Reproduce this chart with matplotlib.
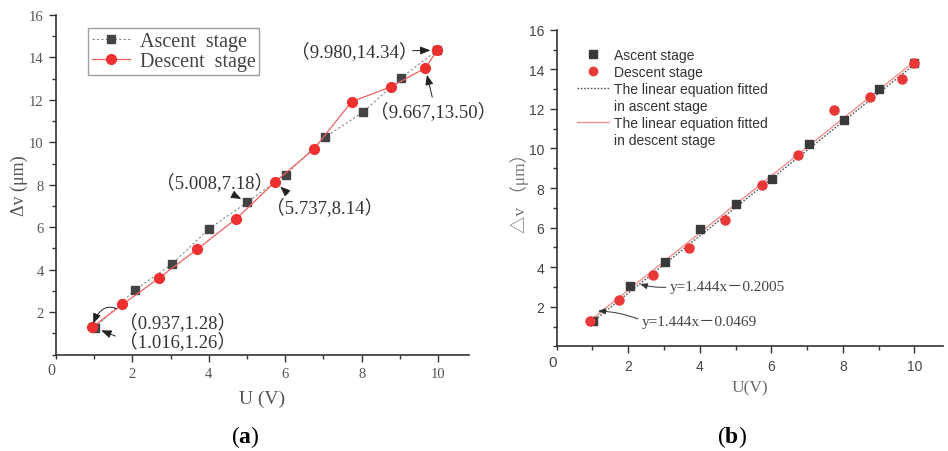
import numpy as np
import matplotlib
matplotlib.use("Agg")
import matplotlib.pyplot as plt
from matplotlib.lines import Line2D
from matplotlib.ticker import MultipleLocator

plt.rcParams["mathtext.fontset"] = "custom"
plt.rcParams["mathtext.rm"] = "Liberation Serif"
plt.rcParams["mathtext.bf"] = "Liberation Serif:bold"

# data
u_up = [1.016, 2.06, 3.03, 4.01, 5.008, 6.01, 7.05, 8.04, 9.02, 9.98]
dv_up = [1.26, 3.04, 4.26, 5.93, 7.18, 8.48, 10.25, 11.43, 13.02, 14.34]
u_down = [0.937, 1.74, 2.69, 3.70, 4.71, 5.737, 6.75, 7.74, 8.76, 9.667, 9.98]
dv_down = [1.28, 2.36, 3.60, 4.97, 6.39, 8.14, 9.68, 11.92, 12.61, 13.50, 14.34]

fit_up = (1.444, -0.2005)
fit_down = (1.444, -0.0469)
fit_x = [1.0, 10.0]

# (label, point, text pos, ha, relpos, connection, shrinkB)
notes_a = [
    ("（9.980,14.34）", (9.98, 14.34), (9.46, 14.32), "right", (0.95, 0.5), "arc3", 5),
    ("（9.667,13.50）", (9.667, 13.50), (8.22, 11.49), "left", (0.5, 1.0), "arc3", 5),
    ("（5.008,7.18）", (5.008, 7.18), (2.62, 8.14), "left", (0.6, 0.0), "arc3", 5),
    ("（5.737,8.14）", (5.737, 8.14), (5.50, 6.96), "left", (0.22, 1.0), "arc3", 5),
    ("（0.937,1.28）", (0.96, 1.40), (1.64, 1.56), "left", (0.08, 0.75), "arc3,rad=0.75", 1),
    ("（1.016,1.26）", (1.016, 1.26), (1.66, 0.64), "left", (0.07, 0.5), "arc3", 5),
]
notes_b = [
    ("y=1.444x－0.2005", (2.33, 3.15), (3.17, 3.0), (0.0, 0.5), "arc3,rad=-0.1"),
    ("y=1.444x－0.0469", (1.155, 1.78), (2.385, 1.23), (0.0, 0.6), "arc3,rad=0.1"),
]

serif = ["Liberation Serif", "Noto Sans CJK SC"]
gray_txt = "#555555"

fig = plt.figure(figsize=(9.48, 4.52), dpi=100)
ax1 = fig.add_axes([0.0591, 0.2133, 0.4352, 0.7513])
ax2 = fig.add_axes([0.5872, 0.2316, 0.4075, 0.7004])


def style_axes(ax, tick_font, tick_size, tick_color):
    ax.set_xlim(0, 10.8)
    ax.set_ylim(0, 16)
    for side in ("top", "right"):
        ax.spines[side].set_visible(False)
    for side in ("left", "bottom"):
        ax.spines[side].set_color("#333333")
        ax.spines[side].set_linewidth(1.2)
    ax.set_xticks([2, 4, 6, 8, 10])
    ax.set_yticks([2, 4, 6, 8, 10, 12, 14, 16])
    ax.xaxis.set_minor_locator(MultipleLocator(1))
    ax.yaxis.set_minor_locator(MultipleLocator(1))
    ax.tick_params(which="major", direction="out", length=5, width=1, color="#333333",
                   labelcolor=tick_color, labelsize=tick_size, pad=4)
    ax.tick_params(which="minor", direction="out", length=3, width=1, color="#333333")
    for lab in ax.get_xticklabels() + ax.get_yticklabels():
        lab.set_family(tick_font)
    ax.annotate("0", xy=(0, 0), xycoords="axes fraction", xytext=(-3, -11),
                textcoords="offset points", ha="center", va="center",
                family=tick_font, fontsize=tick_size + 1, color=tick_color)


# ---- panel (a)
style_axes(ax1, "Liberation Serif", 10.5, gray_txt)
ax1.plot(u_up, dv_up, linestyle=(0, (2, 2)), color="#888888", linewidth=0.8,
         marker="s", markersize=6, markerfacecolor="#444444", markeredgecolor="#444444",
         label="Ascent  stage")
ax1.plot(u_down, dv_down, linestyle="-", color="#f06060", linewidth=0.9,
         marker="o", markersize=7, markerfacecolor="#ee3030", markeredgecolor="#ee3030",
         label="Descent  stage")
ax1.set_xlabel("U (V)", family="Liberation Serif", fontsize=14, color=gray_txt, labelpad=7)
ax1.set_ylabel("Δv (μm)", family="Liberation Serif", fontsize=13, color=gray_txt, labelpad=1)
leg1 = ax1.legend(loc="upper left", bbox_to_anchor=(0.078, 0.962), frameon=True,
                  fancybox=False, edgecolor="#888888", handlelength=1.9, handletextpad=0.45,
                  borderpad=0.2, labelspacing=0.05, borderaxespad=0,
                  prop={"family": "Liberation Serif", "size": 14.5})
leg1.get_frame().set_linewidth(1.0)
for t in leg1.get_texts():
    t.set_color("#444444")

for i, (label, pt, txt, ha, rp, conn, sb) in enumerate(notes_a):
    props = dict(arrowstyle="-|>,head_length=0.45,head_width=0.18",
                 color="#222222", linewidth=0.7, relpos=rp,
                 connectionstyle=conn, shrinkA=1, shrinkB=sb)
    if i == 0:
        # start the arrow right at the closing bracket
        props["patchA"] = None
    ax1.annotate(label, xy=pt, xytext=txt, ha=ha, va="center", family=serif,
                 fontsize=13.5, color="#333333", annotation_clip=False,
                 arrowprops=props)

# ---- panel (b)
style_axes(ax2, "Liberation Sans", 10, "#444444")
fx = np.array(fit_x)
ax2.plot(fx, fit_up[0] * fx + fit_up[1], linestyle=(0, (1.2, 1.2)), color="#555555",
         linewidth=1.0)
ax2.plot(fx, fit_down[0] * fx + fit_down[1], linestyle="-", color="#f39090",
         linewidth=1.0)
ax2.plot(u_up, dv_up, linestyle="none", marker="s", markersize=6,
         markerfacecolor="#3a3a3a", markeredgecolor="#3a3a3a")
ax2.plot(u_down, dv_down, linestyle="none", marker="o", markersize=6.5,
         markerfacecolor="#e83838", markeredgecolor="#e83838")
ax2.set_xlabel("U(V)", family="Liberation Serif", fontsize=12.5, color="#666666", labelpad=5)
ax2.set_ylabel("△v （μm）", family=serif, fontsize=12.5, color="#777777", labelpad=0)

blank = Line2D([], [], linestyle="none")
handles = [
    Line2D([], [], linestyle="none", marker="s", markersize=5.5, color="#3a3a3a"),
    Line2D([], [], linestyle="none", marker="o", markersize=6, color="#e83838"),
    Line2D([], [], linestyle=(0, (1.2, 1.2)), color="#555555", linewidth=1.0),
    blank,
    Line2D([], [], linestyle="-", color="#f39090", linewidth=1.0),
    blank,
]
labels = ["Ascent stage", "Descent stage", "The linear equation fitted",
          "in ascent stage", "The linear equation fitted", "in descent stage"]
leg2 = ax2.legend(handles, labels, loc="upper left", bbox_to_anchor=(0.052, 0.943),
                  frameon=False, handlelength=2.3, handletextpad=0.4, borderpad=0,
                  labelspacing=0.22, borderaxespad=0,
                  prop={"family": "Liberation Sans", "size": 10})
for t in leg2.get_texts():
    t.set_color("#333333")

for label, pt, txt, rp, conn in notes_b:
    ax2.annotate(label, xy=pt, xytext=txt, ha="left", va="center", family=serif,
                 fontsize=11, color="#444444", annotation_clip=False,
                 arrowprops=dict(arrowstyle="-|>,head_length=0.4,head_width=0.16",
                                 color="#333333", linewidth=0.7, relpos=rp,
                                 connectionstyle=conn, shrinkA=1, shrinkB=0))

# captions
fig.text(245 / 948, 1 - 437 / 452, r"($\mathbf{a}$)", ha="center", va="center",
         fontsize=17, family="Liberation Serif")
fig.text(732 / 948, 1 - 437 / 452, r"($\mathbf{b}$)", ha="center", va="center",
         fontsize=17, family="Liberation Serif")

fig.savefig("out.png", dpi=100)
